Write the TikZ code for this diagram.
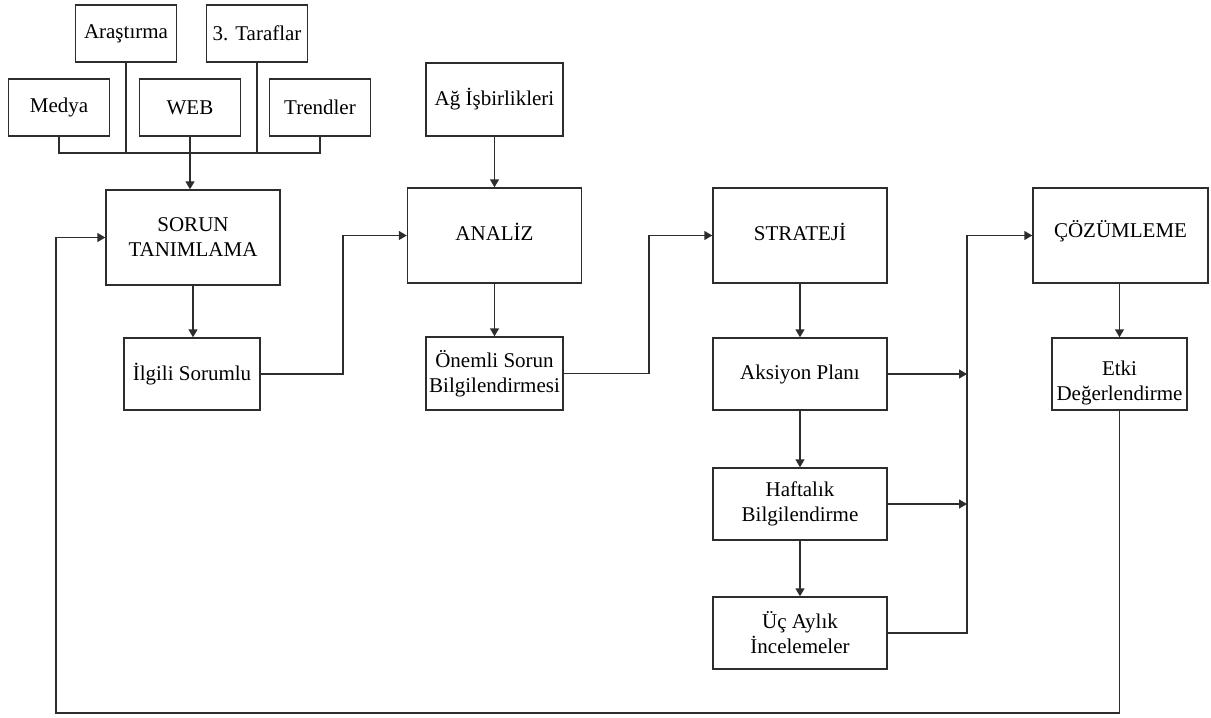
\documentclass[tikz,border=0pt]{standalone}
\usepackage{fontspec}
\setmainfont{Liberation Serif}
\usetikzlibrary{arrows.meta}
\definecolor{ink}{RGB}{45,45,45}
% shift a label without changing the size its node reserves
\newcommand{\nudge}[2]{\raisebox{#1}[\height][\depth]{#2}}
\begin{document}
\begin{tikzpicture}[x=1pt,y=-1pt,
  box/.style={draw=ink, line width=1.4pt, inner sep=0pt, align=center,
    font=\fontsize{21}{25}\selectfont},
  src/.style={box, minimum width=101pt, minimum height=57pt},
  big/.style={box, minimum width=174pt, minimum height=95pt},
  small/.style={box, minimum width=136pt, minimum height=72pt},
  wide/.style={box, minimum width=174pt, minimum height=72pt},
  link/.style={draw=ink, line width=1.4pt},
  arr/.style={link, -{Triangle[length=8pt,width=9pt]}}]
\useasboundingbox (0,0) rectangle (1211,718);

% information sources
\node[src] (arastirma) at (126,33.5) {Araştırma};
\node[src] (taraflar)  at (257,33.5) {3. Taraflar};
\node[src] (medya)     at (59,107.5) {Medya};
\node[src] (web)       at (190,107.5) {WEB};
\node[src] (trendler)  at (320,107.5) {Trendler};

% main stages
\node[big] (sorun)    at (193,237.5) {SORUN\\TANIMLAMA};
\node[big] (analiz)   at (494.5,235.5) {\nudge{4pt}{ANALİZ}};
\node[big] (strateji) at (800,235.5) {\nudge{4pt}{STRATEJİ}};
\node[big, minimum width=175pt] (cozum) at (1120.5,235.5) {\nudge{4pt}{ÇÖZÜMLEME}};

% sub-steps
\node[small, minimum width=137pt, minimum height=73pt] (ag) at (494.5,99.5) {Ağ İşbirlikleri};
\node[small] (ilgili) at (192,374) {İlgili Sorumlu};
\node[small, minimum width=137pt, minimum height=73pt] (onemli) at (494.5,373.5) {Önemli Sorun\\Bilgilendirmesi};
\node[wide] (aksiyon)  at (800,374) {Aksiyon Planı};
\node[wide] (haftalik) at (800,504) {Haftalık\\Bilgilendirme};
\node[wide] (ucaylik)  at (800,633) {Üç Aylık\\İncelemeler};
\node[small, minimum width=135pt] (etki) at (1119.5,374)
  {\nudge{-9pt}{\begin{tabular}{@{}c@{}}Etki\\Değerlendirme\end{tabular}}};

% collector bus of the sources
\coordinate (bus) at (0,153);
\draw[link] (medya.south) |- (trendler.south |- bus) -- (trendler.south);
\draw[link] (arastirma.south) -- (arastirma.south |- bus);
\draw[link] (taraflar.south) -- (taraflar.south |- bus);
\draw[arr] (web.south) -- (web.south |- sorun.north);

% vertical flow
\draw[arr] (ag.south) -- (analiz.north);
\draw[arr] (sorun.south) -- (sorun.south |- ilgili.north);
\draw[arr] (analiz.south) -- (onemli.north);
\draw[arr] (strateji.south) -- (aksiyon.north);
\draw[arr] (aksiyon.south) -- (haftalik.north);
\draw[arr] (haftalik.south) -- (ucaylik.north);
\draw[arr] (cozum.south -| etki.north) -- (etki.north);

% stage-to-stage links
\coordinate (j1) at (343,0);
\coordinate (j2) at (649,0);
\coordinate (j3) at (967,0);
\draw[arr] (ilgili.east) -| (j1 |- analiz.west) -- (analiz.west);
\draw[arr] (onemli.east) -| (j2 |- strateji.west) -- (strateji.west);
\draw[arr] (aksiyon.east) -- (j3 |- aksiyon.east);
\draw[arr] (haftalik.east) -- (j3 |- haftalik.east);
\draw[arr] (ucaylik.east) -| (j3 |- cozum.west) -- (cozum.west);

% feedback loop
\coordinate (loop) at (56,713);
\draw[arr] (etki.south) |- (loop) |- (sorun.west);
\end{tikzpicture}
\end{document}
